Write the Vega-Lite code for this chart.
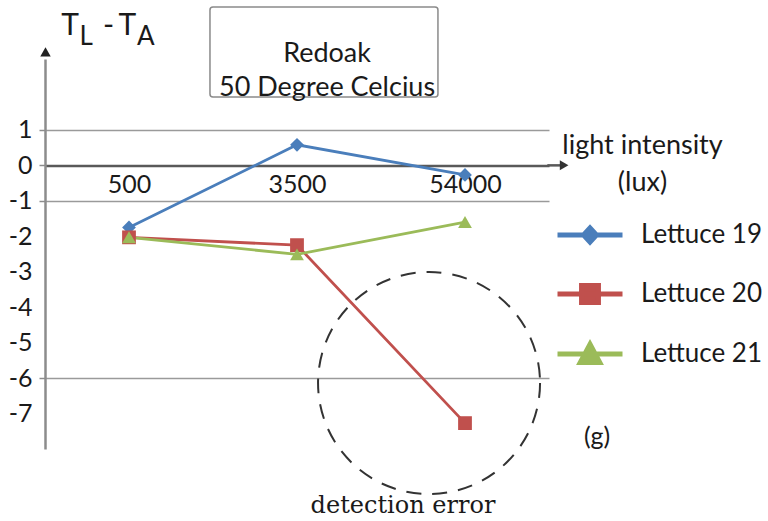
{
  "$schema": "https://vega.github.io/schema/vega-lite/v6.json",
  "width": 504,
  "height": 390,
  "autosize": "none",
  "padding": {"left": 45, "top": 59, "right": 219, "bottom": 72},
  "config": {"font": "Lato", "view": {"stroke": null}},
  "datasets": {
    "series": [
      {"lux": "500", "series": "Lettuce 19", "value": -1.75},
      {"lux": "3500", "series": "Lettuce 19", "value": 0.58},
      {"lux": "54000", "series": "Lettuce 19", "value": -0.27},
      {"lux": "500", "series": "Lettuce 20", "value": -2.03},
      {"lux": "3500", "series": "Lettuce 20", "value": -2.25},
      {"lux": "54000", "series": "Lettuce 20", "value": -7.27},
      {"lux": "500", "series": "Lettuce 21", "value": -2.03},
      {"lux": "3500", "series": "Lettuce 21", "value": -2.51},
      {"lux": "54000", "series": "Lettuce 21", "value": -1.6}
    ]
  },
  "resolve": {"scale": {"x": "independent"}},
  "layer": [
    {
      "layer": [
        {
          "data": {"values": [{}]},
          "mark": {"type": "rect", "fill": "white", "stroke": "#8a8a8a", "strokeWidth": 1.5, "cornerRadius": 3},
          "encoding": {
            "x": {"datum": 0.982, "type": "quantitative", "scale": {"domain": [0, 3], "nice": false, "zero": false}, "axis": null},
            "x2": {"datum": 2.339},
            "y": {"datum": 4.47, "type": "quantitative", "scale": {"domain": [-8, 3], "nice": false, "zero": false}},
            "y2": {"datum": 1.93}
          }
        },
        {
          "data": {"values": [{}]},
          "mark": {"type": "text", "text": ["Redoak", "50 Degree Celcius"], "fontSize": 27, "lineHeight": 34, "align": "center", "baseline": "middle", "color": "#1a1a1a"},
          "encoding": {
            "x": {"datum": 1.679, "type": "quantitative", "scale": {"domain": [0, 3], "nice": false, "zero": false}, "axis": null},
            "y": {"datum": 3.14, "type": "quantitative", "scale": {"domain": [-8, 3], "nice": false, "zero": false}}
          }
        },
        {
          "data": {"values": [{}]},
          "mark": {"type": "point", "shape": "circle", "size": 49284, "filled": false, "stroke": "#333333", "strokeWidth": 2, "strokeDash": [15, 11], "opacity": 1},
          "encoding": {
            "x": {"datum": 2.286, "type": "quantitative", "scale": {"domain": [0, 3], "nice": false, "zero": false}, "axis": null},
            "y": {"datum": -6.14, "type": "quantitative", "scale": {"domain": [-8, 3], "nice": false, "zero": false}}
          }
        },
        {
          "data": {"values": [{}]},
          "mark": {"type": "text", "text": "detection error", "font": "DejaVu Serif", "fontSize": 24, "align": "center", "baseline": "middle", "color": "#1a1a1a"},
          "encoding": {
            "x": {"datum": 2.131, "type": "quantitative", "scale": {"domain": [0, 3], "nice": false, "zero": false}, "axis": null},
            "y": {"datum": -9.61, "type": "quantitative", "scale": {"domain": [-8, 3], "nice": false, "zero": false}}
          }
        },
        {
          "data": {"values": [{}]},
          "mark": {"type": "text", "text": "(g)", "fontSize": 25, "align": "center", "baseline": "middle", "color": "#1a1a1a"},
          "encoding": {
            "x": {"datum": 3.286, "type": "quantitative", "scale": {"domain": [0, 3], "nice": false, "zero": false}, "axis": null},
            "y": {"datum": -7.66, "type": "quantitative", "scale": {"domain": [-8, 3], "nice": false, "zero": false}}
          }
        },
        {
          "data": {"values": [{}]},
          "mark": {"type": "text", "text": "T", "fontSize": 30, "align": "center", "baseline": "alphabetic", "color": "#1a1a1a"},
          "encoding": {
            "x": {"datum": 0.149, "type": "quantitative", "scale": {"domain": [0, 3], "nice": false, "zero": false}, "axis": null},
            "y": {"datum": 3.678, "type": "quantitative", "scale": {"domain": [-8, 3], "nice": false, "zero": false}}
          }
        },
        {
          "data": {"values": [{}]},
          "mark": {"type": "text", "text": "L", "fontSize": 26, "align": "center", "baseline": "alphabetic", "color": "#1a1a1a"},
          "encoding": {
            "x": {"datum": 0.245, "type": "quantitative", "scale": {"domain": [0, 3], "nice": false, "zero": false}, "axis": null},
            "y": {"datum": 3.396, "type": "quantitative", "scale": {"domain": [-8, 3], "nice": false, "zero": false}}
          }
        },
        {
          "data": {"values": [{}]},
          "mark": {"type": "text", "text": "-", "fontSize": 30, "align": "center", "baseline": "alphabetic", "color": "#1a1a1a"},
          "encoding": {
            "x": {"datum": 0.378, "type": "quantitative", "scale": {"domain": [0, 3], "nice": false, "zero": false}, "axis": null},
            "y": {"datum": 3.678, "type": "quantitative", "scale": {"domain": [-8, 3], "nice": false, "zero": false}}
          }
        },
        {
          "data": {"values": [{}]},
          "mark": {"type": "text", "text": "T", "fontSize": 30, "align": "center", "baseline": "alphabetic", "color": "#1a1a1a"},
          "encoding": {
            "x": {"datum": 0.49, "type": "quantitative", "scale": {"domain": [0, 3], "nice": false, "zero": false}, "axis": null},
            "y": {"datum": 3.678, "type": "quantitative", "scale": {"domain": [-8, 3], "nice": false, "zero": false}}
          }
        },
        {
          "data": {"values": [{}]},
          "mark": {"type": "text", "text": "A", "fontSize": 26, "align": "center", "baseline": "alphabetic", "color": "#1a1a1a"},
          "encoding": {
            "x": {"datum": 0.6, "type": "quantitative", "scale": {"domain": [0, 3], "nice": false, "zero": false}, "axis": null},
            "y": {"datum": 3.396, "type": "quantitative", "scale": {"domain": [-8, 3], "nice": false, "zero": false}}
          }
        },
        {
          "data": {"values": [{}]},
          "mark": {"type": "point", "shape": "triangle-up", "size": 110, "filled": true, "color": "#222222", "opacity": 1},
          "encoding": {
            "x": {"datum": 0.003, "type": "quantitative", "scale": {"domain": [0, 3], "nice": false, "zero": false}, "axis": null},
            "y": {"datum": 3.2, "type": "quantitative", "scale": {"domain": [-8, 3], "nice": false, "zero": false}}
          }
        },
        {
          "data": {"values": [{}]},
          "mark": {"type": "rule", "stroke": "#595959", "strokeWidth": 2.5},
          "encoding": {
            "x": {"datum": 2.99, "type": "quantitative", "scale": {"domain": [0, 3], "nice": false, "zero": false}, "axis": null},
            "x2": {"datum": 3.08},
            "y": {"datum": 0, "type": "quantitative", "scale": {"domain": [-8, 3], "nice": false, "zero": false}}
          }
        },
        {
          "data": {"values": [{}]},
          "mark": {"type": "point", "shape": "triangle-right", "size": 100, "filled": true, "color": "#333333", "opacity": 1},
          "encoding": {
            "x": {"datum": 3.09, "type": "quantitative", "scale": {"domain": [0, 3], "nice": false, "zero": false}, "axis": null},
            "y": {"datum": 0, "type": "quantitative", "scale": {"domain": [-8, 3], "nice": false, "zero": false}}
          }
        }
      ]
    },
    {
      "data": {"name": "series"},
      "encoding": {
        "x": {
          "field": "lux", "type": "ordinal", "sort": ["500", "3500", "54000"],
          "scale": {"type": "point", "padding": 0.5},
          "axis": {
            "orient": "bottom", "offset": -283.6,
            "domainColor": "#595959", "domainWidth": 2.5,
            "ticks": false, "labelFontSize": 25, "labelColor": "#1a1a1a", "labelAngle": 0, "labelPadding": 7,
            "title": ["light intensity", "(lux)"], "titleFontSize": 27, "titleFontWeight": "normal", "titleColor": "#1a1a1a",
            "titleX": 597, "titleY": -12, "titleAlign": "center", "titleBaseline": "alphabetic", "titleLineHeight": 37, "titleAngle": 0
          }
        },
        "y": {
          "field": "value", "type": "quantitative",
          "scale": {"domain": [-8, 3], "nice": false, "zero": false},
          "axis": {
            "values": [1, 0, -1, -2, -3, -4, -5, -6, -7],
            "labelExpr": "'' + datum.value",
            "title": null,
            "domainColor": "#8c8c8c", "domainWidth": 2.5,
            "labelFontSize": 25, "labelColor": "#1a1a1a", "labelPadding": 7,
            "tickSize": 6, "tickColor": "#8c8c8c", "tickWidth": 1.5,
            "tickOpacity": {"condition": {"test": "datum.value==1||datum.value==0||datum.value==-1||datum.value==-6", "value": 1}, "value": 0},
            "grid": true, "gridColor": "#9a9a9a", "gridWidth": 1.5,
            "gridOpacity": {"condition": {"test": "datum.value==1||datum.value==-1||datum.value==-6", "value": 1}, "value": 0}
          }
        },
        "color": {
          "field": "series", "type": "nominal",
          "scale": {"domain": ["Lettuce 19", "Lettuce 20", "Lettuce 21"], "range": ["#4a7ebb", "#c0504d", "#9bbb59"]},
          "legend": {
            "orient": "none", "legendX": 510, "legendY": 141, "title": null,
            "symbolSize": 4225, "labelFontSize": 26, "labelColor": "#1a1a1a", "labelOffset": 16,
            "rowPadding": 6, "padding": 0,
            "encode": {
              "symbols": {
                "update": {
                  "shape": {"signal": "datum.value === 'Lettuce 19' ? 'M-1,0H1M0,-0.22L0.2,0L0,0.22L-0.2,0Z' : datum.value === 'Lettuce 20' ? 'M-1,0H1M-0.26,-0.26H0.26V0.26H-0.26Z' : 'M-1,0H1M0,-0.3L0.3,0.26H-0.3Z'"},
                  "fill": {"signal": "datum.value === 'Lettuce 19' ? '#4a7ebb' : datum.value === 'Lettuce 20' ? '#c0504d' : '#9bbb59'"},
                  "stroke": {"signal": "datum.value === 'Lettuce 19' ? '#4a7ebb' : datum.value === 'Lettuce 20' ? '#c0504d' : '#9bbb59'"},
                  "strokeWidth": {"value": 5},
                  "opacity": {"value": 1},
                  "fillOpacity": {"value": 1},
                  "strokeOpacity": {"value": 1}
                }
              }
            }
          }
        }
      },
      "layer": [
        {"mark": {"type": "line", "strokeWidth": 2.8}},
        {
          "mark": {"type": "point", "filled": true, "size": 190, "opacity": 1},
          "encoding": {
            "shape": {
              "condition": [
                {"test": "datum.series === 'Lettuce 19'", "value": "diamond"},
                {"test": "datum.series === 'Lettuce 20'", "value": "square"}
              ],
              "value": "triangle-up"
            }
          }
        }
      ]
    }
  ]
}
